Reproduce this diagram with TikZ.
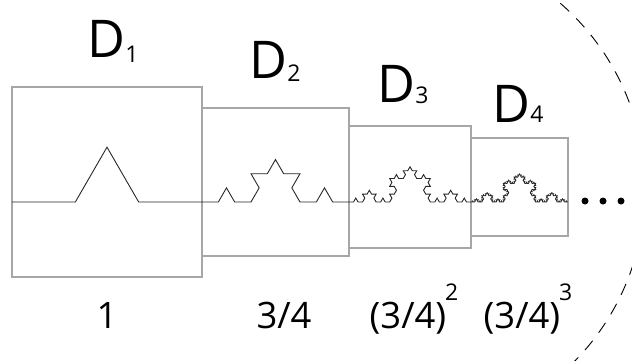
\documentclass[tikz,border=0pt]{standalone}
\usepackage{fontspec}
\setmainfont{Open Sans}
\usetikzlibrary{lindenmayersystems}
\pgfdeclarelindenmayersystem{koch}{\rule{F -> F+F--F+F}}
\tikzset{frame/.style={draw=black!35, line width=0.6pt, inner sep=0pt, outer sep=0pt},
  koch/.style={draw=black!85, line width=0.45pt, line join=miter},
  dlab/.style={inner sep=0pt, anchor=base west, font=\fontsize{26}{30}\selectfont},
  scl/.style={inner sep=0pt, anchor=base, font=\fontsize{18.2}{22}\selectfont}}
\newcommand{\dsub}[2][0pt]{D\raisebox{#1}{\fontsize{11.5}{12}\selectfont #2}}
\newcommand{\psup}[1]{\kern-0.5pt\raisebox{14pt}{\fontsize{11.5}{12}\selectfont #1}}

\begin{document}
\begin{tikzpicture}[x=0.5pt, y=-0.5pt]
\useasboundingbox (0,0) rectangle (632,360);
\node (b1) at (107,182) [frame, minimum width=95pt, minimum height=95pt] {};
\node (b2) at (275.5,182) [frame, minimum width=73.5pt, minimum height=74pt] {};
\node (b3) at (410,187) [frame, minimum width=61pt, minimum height=61pt] {};
\node (b4) at (519.5,187) [frame, minimum width=48.5pt, minimum height=49pt] {};
\coordinate (k1) at (12,202);
\coordinate (k2) at (202,202);
\coordinate (k3) at (349,202);
\coordinate (k4) at (471,202);
\draw[koch, shift={(k1)}] l-system [l-system={koch, axiom=F, order=1, step=31.667pt, angle=60}];
\draw[koch, shift={(k2)}] l-system [l-system={koch, axiom=F, order=2, step=8.1667pt, angle=60}];
\draw[koch, shift={(k3)}] l-system [l-system={koch, axiom=F, order=3, step=2.2593pt, angle=60}];
\draw[koch, shift={(k4)}] l-system [l-system={koch, axiom=F, order=4, step=0.5988pt, angle=60}];
\node (d1) at (87,57) [dlab] {\dsub[-2.5pt]{1}};
\node (d2) at (249,78) [dlab] {\dsub[-1.5pt]{2}};
\node (d3) at (377,102) [dlab] {\dsub[-0.5pt]{3}};
\node (d4) at (492,122) [dlab] {\dsub{4}};
\node (s1) at (107,328) [scl] {1};
\node (s2) at (284,328) [scl] {3/4};
\node (s3) at (414,328) [scl] {(3/4)\psup{2}};
\node (s4) at (528,328) [scl] {(3/4)\psup{3}};
\foreach \x/\n in {585/a,603/b,621/c}
  \fill (\x,201) circle (1.75pt) coordinate (dot\n);
\coordinate (o) at (399,189);
\draw[line width=0.45pt, dash pattern=on 6pt off 5pt] (o) ++(-46:123pt) arc[start angle=-46, end angle=52, radius=123pt];
\end{tikzpicture}
\end{document}
